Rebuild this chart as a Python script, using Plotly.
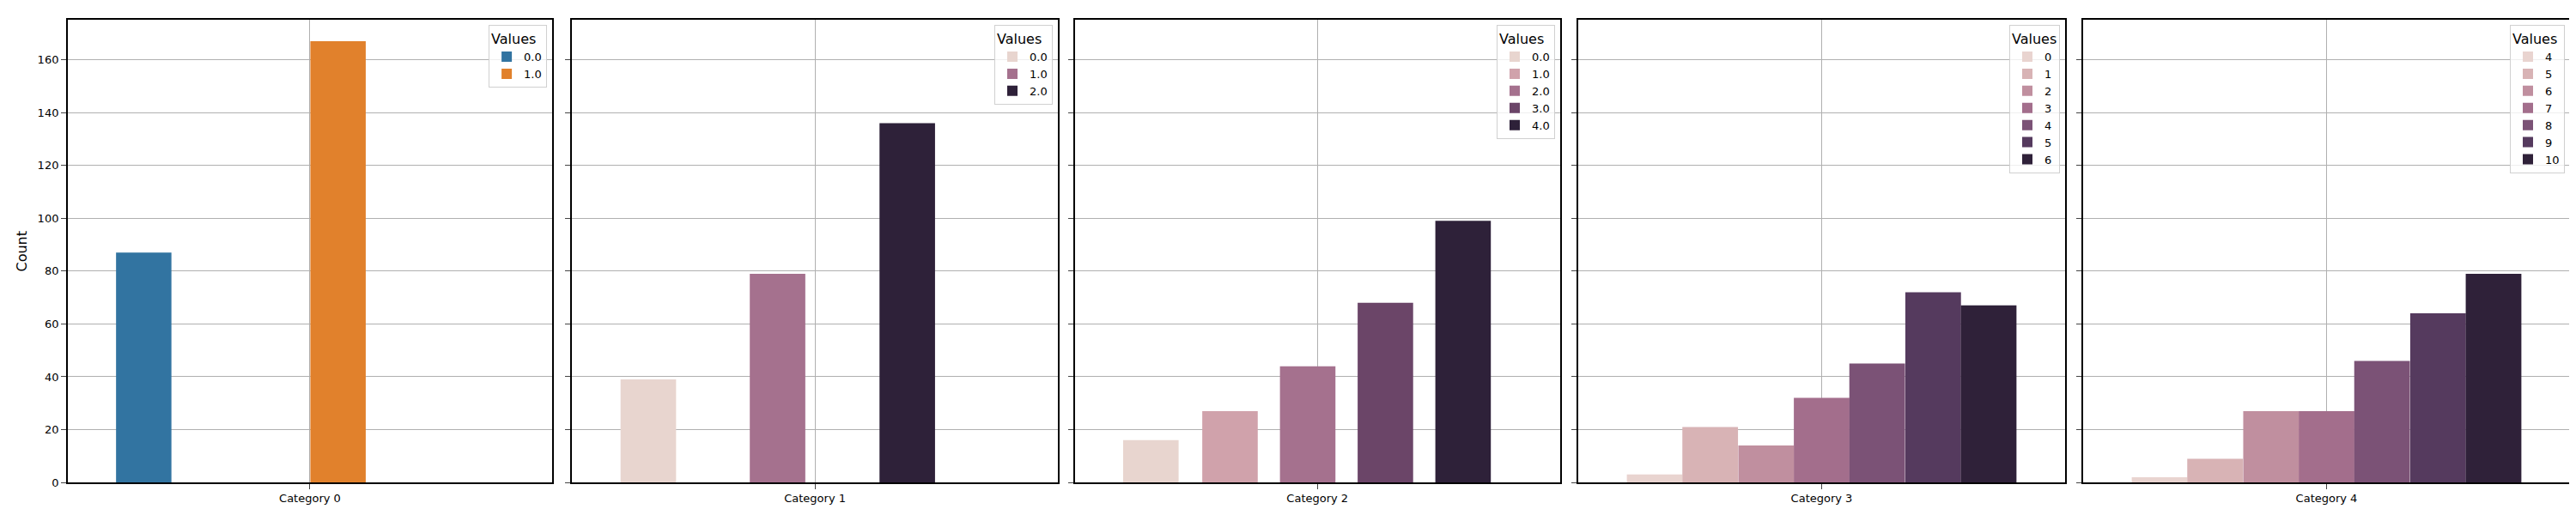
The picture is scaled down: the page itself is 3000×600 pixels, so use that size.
import plotly.graph_objects as go

categories = ["Category 0", "Category 1", "Category 2", "Category 3", "Category 4"]
hue_labels = [
    ["0.0", "1.0"],
    ["0.0", "1.0", "2.0"],
    ["0.0", "1.0", "2.0", "3.0", "4.0"],
    ["0", "1", "2", "3", "4", "5", "6"],
    ["4", "5", "6", "7", "8", "9", "10"],
]
counts = [
    [87, 167],
    [39, 79, 136],
    [16, 27, 44, 68, 99],
    [3, 21, 14, 32, 45, 72, 67],
    [2, 9, 27, 27, 46, 64, 79],
]
# bar offsets within each category (dodge positions)
offsets = [
    [-0.343, 0.058],
    [-0.343, -0.077, 0.190],
    [-0.343, -0.18, -0.02, 0.14, 0.30],
    [-0.343, -0.229, -0.114, 0.0, 0.114, 0.229, 0.343],
    [-0.343, -0.229, -0.114, 0.0, 0.114, 0.229, 0.343],
]
palettes = [
    ["#3274a1", "#e1812c"],
    ["#e8d5cf", "#a5718e", "#2e2139"],
    ["#e8d5cf", "#d0a2ab", "#a5718e", "#6b4568", "#2e2139"],
    ["#e9d4d0", "#d8b3b5", "#c08f9f", "#a36e8c", "#7b5276", "#553a5e", "#2f2139"],
    ["#e9d4d0", "#d8b3b5", "#c08f9f", "#a36e8c", "#7b5276", "#553a5e", "#2f2139"],
]

x_domains = [(0.0236, 0.2117), (0.2194, 0.408), (0.4145, 0.603), (0.610, 0.799), (0.806, 0.995)]
y_domain = (0.064, 0.974)

fig = go.Figure()
layout = dict(
    width=3000, height=600, margin=dict(l=0, r=0, t=0, b=0),
    plot_bgcolor="white", paper_bgcolor="white", barmode="overlay",
    font=dict(family="DejaVu Sans", size=13, color="black"),
)

for p in range(5):
    n = "" if p == 0 else str(p + 1)
    leg = "legend" + n
    for j in range(len(counts[p])):
        fig.add_trace(go.Bar(
            x=[offsets[p][j]], y=[counts[p][j]], width=0.8 / 7,
            marker=dict(color=palettes[p][j], line=dict(width=0)),
            name=hue_labels[p][j], xaxis="x" + n, yaxis="y" + n, legend=leg,
        ))
    layout["xaxis" + n] = dict(
        domain=x_domains[p], range=[-0.5, 0.5], anchor="y" + n,
        tickvals=[0], ticktext=[categories[p]], ticks="outside", ticklen=6,
        showgrid=True, gridcolor="#b0b0b0", gridwidth=1,
        showline=True, linecolor="black", linewidth=1.5, mirror=True, zeroline=False,
    )
    layout["yaxis" + n] = dict(
        domain=y_domain, range=[0, 175], anchor="x" + n,
        tickvals=list(range(0, 161, 20)), showticklabels=(p == 0),
        ticks="outside", ticklen=6,
        showgrid=True, gridcolor="#b0b0b0", gridwidth=1,
        showline=True, linecolor="black", linewidth=1.5, mirror=True, zeroline=False,
        title=dict(text="Count" if p == 0 else "", standoff=8),
    )
    layout[leg] = dict(
        title=dict(text="Values", side="top"), x=x_domains[p][1] - 0.002, y=y_domain[1] - 0.01,
        xanchor="right", yanchor="top", bgcolor="rgba(255,255,255,0.8)",
        bordercolor="#d0d0d0", borderwidth=1, font=dict(size=13),
    )

fig.update_layout(**layout)
fig.write_html("out.html")
